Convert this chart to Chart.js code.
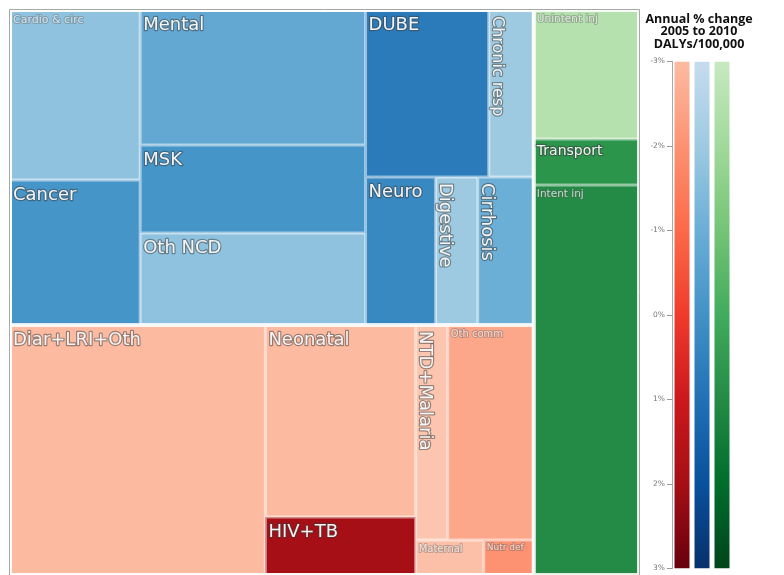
<!DOCTYPE html>
<html>
<head>
<meta charset="utf-8">
<script src="https://cdn.jsdelivr.net/npm/chart.js@4.4.0/dist/chart.umd.min.js"></script>
<style>
  html, body { margin: 0; padding: 0; background: #fff; }
  #wrap { position: relative; width: 784px; height: 575px; overflow: hidden; }
  #tree { position: absolute; left: 0; top: 0; }
  #scale { position: absolute; left: 640px; top: 0; }
</style>
</head>
<body>
<div id="wrap">
  <canvas id="tree" width="640" height="575"></canvas>
  <canvas id="scale" width="118" height="575"></canvas>
</div>
<script>
var causes = ['Cardio & circ', 'Cancer', 'Mental', 'MSK', 'Oth NCD', 'DUBE', 'Chronic resp',
              'Neuro', 'Digestive', 'Cirrhosis', 'Diar+LRI+Oth', 'Neonatal', 'HIV+TB',
              'NTD+Malaria', 'Oth comm', 'Maternal', 'Nutr def', 'Unintent inj', 'Transport', 'Intent inj'];
var dalys = [2210, 1885, 3038, 1980, 2070, 2054, 752, 1036, 622, 829,
             6375, 2880, 870, 688, 1849, 238, 175, 1355, 483, 4095];
var pctChange = [-1.7, -0.1, -0.8, -0.1, -1.7, 0.7, -2.0, 0.3, -2.0, -1.0,
                 -3.0, -3.0, 2.0, -3.4, -2.5, -3.2, -2.0, -2.5, 0.7, 1.0];
var causeGroup = ['ncd', 'ncd', 'ncd', 'ncd', 'ncd', 'ncd', 'ncd', 'ncd', 'ncd', 'ncd',
                  'comm', 'comm', 'comm', 'comm', 'comm', 'comm', 'comm', 'inj', 'inj', 'inj'];
// where each cause sits in the treemap hierarchy
var nesting = ['A/NCD/c1', 'A/NCD/c1', 'A/NCD/c2', 'A/NCD/c2', 'A/NCD/c2',
               'A/NCD/c3/top', 'A/NCD/c3/top', 'A/NCD/c3/bot', 'A/NCD/c3/bot', 'A/NCD/c3/bot',
               'A/COMM', 'A/COMM/c2', 'A/COMM/c2', 'A/COMM/c3/top', 'A/COMM/c3/top',
               'A/COMM/c3/bot', 'A/COMM/c3/bot', 'INJ', 'INJ', 'INJ'];

var scaleTicks = [-3, -2, -1, 0, 1, 2, 3];
var barGroups = ['comm', 'ncd', 'inj'];

// colour ramps (value -> colour), -4 only used for cells below the bar
var rampStops = [-4, -3, -2, -1, 0, 1, 2, 3];
var ramps = {
    comm: ['#fdd5c4', '#fcbba1', '#fc9272', '#fb6a4a', '#ef3b2c', '#cb181d', '#a50f15', '#67000d'],
    ncd:  ['#deebf7', '#c6dbef', '#9ecae1', '#6baed6', '#4292c6', '#2171b5', '#08519c', '#08306b'],
    inj:  ['#e5f5e0', '#c7e9c0', '#a1d99b', '#74c476', '#41ab5d', '#238b45', '#006d2c', '#00441b']
};

// label sizes for the cramped cells
var labelSize = { 'Cardio & circ': 11, 'Unintent inj': 10.5, 'Intent inj': 10.5, 'Oth comm': 10,
                  'Maternal': 10, 'Nutr def': 9, 'Transport': 14, 'Chronic resp': 16 };

function hexToRgb(h) {
    var n = parseInt(h.slice(1), 16);
    return [(n >> 16) & 255, (n >> 8) & 255, n & 255];
}

function colourFor(group, v) {
    var cols = ramps[group];
    v = Math.max(rampStops[0], Math.min(rampStops[rampStops.length - 1], v));
    for (var i = 0; i < rampStops.length - 1; i++) {
        if (v <= rampStops[i + 1]) {
            var t = (v - rampStops[i]) / (rampStops[i + 1] - rampStops[i]);
            var a = hexToRgb(cols[i]), b = hexToRgb(cols[i + 1]);
            return 'rgb(' + a.map(function(c, k) { return Math.round(c + (b[k] - c) * t); }).join(',') + ')';
        }
    }
    return cols[cols.length - 1];
}

function buildTree() {
    var root = { key: 'root', children: [], depth: 0 };
    causes.forEach(function(name, i) {
        var node = root;
        nesting[i].split('/').forEach(function(key) {
            var child = node.children.find(function(c) { return c.key === key; });
            if (!child) {
                child = { key: key, children: [], depth: node.depth + 1 };
                node.children.push(child);
            }
            node = child;
        });
        node.children.push({ index: i, value: dalys[i], depth: node.depth + 1 });
    });
    (function sum(n) {
        if (!n.children) return n.value;
        n.value = n.children.reduce(function(s, c) { return s + sum(c); }, 0);
        return n.value;
    })(root);
    return root;
}

// slice and dice, alternating direction with depth, in 0..1 units
function layout(node, x0, y0, x1, y1, leaves, groups) {
    node.x0 = x0; node.y0 = y0; node.x1 = x1; node.y1 = y1;
    if (!node.children) { leaves.push(node); return; }
    if (node.depth > 0) groups.push(node);
    var horizontal = node.depth % 2 === 0;
    var pos = horizontal ? x0 : y0;
    var span = horizontal ? x1 - x0 : y1 - y0;
    node.children.forEach(function(c) {
        var d = span * c.value / node.value;
        if (horizontal) layout(c, pos, y0, pos + d, y1, leaves, groups);
        else layout(c, x0, pos, x1, pos + d, leaves, groups);
        pos += d;
    });
}

var tree = buildTree();
var cells = [], groupNodes = [];
layout(tree, 0, 0, 1, 1, cells, groupNodes);

function pixelBox(chart, n) {
    var xs = chart.scales.x, ys = chart.scales.y;
    var l = xs.getPixelForValue(n.x0), r = xs.getPixelForValue(n.x1);
    var t = ys.getPixelForValue(n.y0), b = ys.getPixelForValue(n.y1);
    return { l: l, t: t, w: r - l, h: b - t };
}

var treemapPlugin = {
    id: 'treemapCells',
    beforeDatasetsDraw: function(chart) {
        var ctx = chart.ctx;
        ctx.save();
        cells.forEach(function(c) {
            var p = pixelBox(chart, c);
            ctx.fillStyle = colourFor(causeGroup[c.index], pctChange[c.index]);
            ctx.fillRect(p.l, p.t, p.w, p.h);
            ctx.strokeStyle = 'rgba(255,255,255,0.5)';
            ctx.lineWidth = 1.5;
            ctx.strokeRect(p.l + 0.75, p.t + 0.75, p.w - 1.5, p.h - 1.5);
        });
        groupNodes.forEach(function(g) {
            if (g.depth > 2) return;
            var p = pixelBox(chart, g);
            ctx.strokeStyle = 'rgba(255,255,255,0.8)';
            ctx.lineWidth = 2;
            ctx.strokeRect(p.l + 1, p.t + 1, p.w - 2, p.h - 2);
        });

        // labels
        ctx.lineJoin = 'round';
        ctx.textAlign = 'left';
        ctx.textBaseline = 'alphabetic';
        cells.forEach(function(c) {
            var p = pixelBox(chart, c);
            var name = causes[c.index];
            var size = labelSize[name] || 18;
            var minor = size < 12;
            ctx.font = size + 'px "DejaVu Sans"';
            var tw = ctx.measureText(name).width;
            var vertical = tw > p.w - 6 && p.h > p.w;
            ctx.save();
            if (vertical) {
                ctx.translate(p.l + 4, p.t + 6);
                ctx.rotate(Math.PI / 2);
            } else {
                ctx.translate(p.l + 3, p.t + size * 1.05 + 1);
            }
            ctx.strokeStyle = minor ? 'rgba(90,90,90,0.35)' : 'rgba(60,60,60,0.5)';
            ctx.lineWidth = minor ? 2 : 2.4;
            ctx.strokeText(name, 0, 0);
            ctx.fillStyle = minor ? 'rgba(255,255,255,0.7)' : '#f4f4f4';
            ctx.fillText(name, 0, 0);
            ctx.restore();
        });

        var a = chart.chartArea;
        ctx.strokeStyle = '#a8a8a8';
        ctx.lineWidth = 1;
        ctx.strokeRect(a.left - 0.5, a.top - 0.5, a.right - a.left + 1, a.bottom - a.top + 1);
        ctx.restore();
    }
};

new Chart(document.getElementById('tree'), {
    type: 'scatter',
    data: {
        datasets: [{
            data: cells.map(function(c) { return { x: (c.x0 + c.x1) / 2, y: (c.y0 + c.y1) / 2 }; }),
            pointRadius: 0,
            pointHoverRadius: 0
        }]
    },
    options: {
        responsive: false,
        animation: false,
        events: [],
        layout: { padding: { left: 10, top: 10, right: 1, bottom: 0 } },
        plugins: { legend: { display: false }, tooltip: { enabled: false } },
        scales: {
            x: { type: 'linear', min: 0, max: 1, display: false },
            y: { type: 'linear', min: 0, max: 1, reverse: true, display: false }
        }
    },
    plugins: [treemapPlugin]
});

// colour bar legend
function barGradient(context) {
    var chart = context.chart;
    if (!chart.chartArea) return null;
    var ys = chart.scales.y;
    var group = barGroups[context.dataIndex];
    var top = ys.getPixelForValue(scaleTicks[0]);
    var bottom = ys.getPixelForValue(scaleTicks[scaleTicks.length - 1]);
    var g = chart.ctx.createLinearGradient(0, top, 0, bottom);
    scaleTicks.forEach(function(v) {
        g.addColorStop((v - scaleTicks[0]) / (scaleTicks[scaleTicks.length - 1] - scaleTicks[0]), colourFor(group, v));
    });
    return g;
}

new Chart(document.getElementById('scale'), {
    type: 'bar',
    data: {
        labels: barGroups,
        datasets: [{
            data: barGroups.map(function() { return [scaleTicks[0], scaleTicks[scaleTicks.length - 1]]; }),
            backgroundColor: barGradient,
            borderWidth: 0,
            barPercentage: 0.75,
            categoryPercentage: 1
        }]
    },
    options: {
        responsive: false,
        animation: false,
        events: [],
        layout: { padding: { left: 0, right: 0, top: 0, bottom: 2 } },
        plugins: {
            legend: { display: false },
            tooltip: { enabled: false },
            title: {
                display: true,
                text: ['Annual % change', '2005 to 2010', 'DALYs/100,000'],
                color: '#111',
                font: { family: '"Open Sans", sans-serif', weight: 'bold', size: 12.5, lineHeight: 1.0 },
                padding: { top: 13, bottom: 11 }
            }
        },
        scales: {
            x: { type: 'category', display: false },
            y: {
                type: 'linear',
                position: 'left',
                min: scaleTicks[0],
                max: scaleTicks[scaleTicks.length - 1],
                reverse: true,
                afterFit: function(s) { s.width = 32; },
                afterBuildTicks: function(s) { s.ticks = scaleTicks.map(function(v) { return { value: v }; }); },
                ticks: {
                    callback: function(v) { return v + '%'; },
                    color: '#777',
                    font: { family: '"DejaVu Sans"', size: 7.5 },
                    padding: 2
                },
                grid: { drawOnChartArea: false, drawTicks: true, tickLength: 5, color: '#999' },
                border: { display: true, color: '#aaa' }
            },
            spacer: {
                type: 'linear',
                position: 'right',
                min: scaleTicks[0],
                max: scaleTicks[scaleTicks.length - 1],
                afterFit: function(s) { s.width = 26; },
                ticks: { display: false },
                grid: { display: false },
                border: { display: false }
            }
        }
    }
});
</script>
</body>
</html>
